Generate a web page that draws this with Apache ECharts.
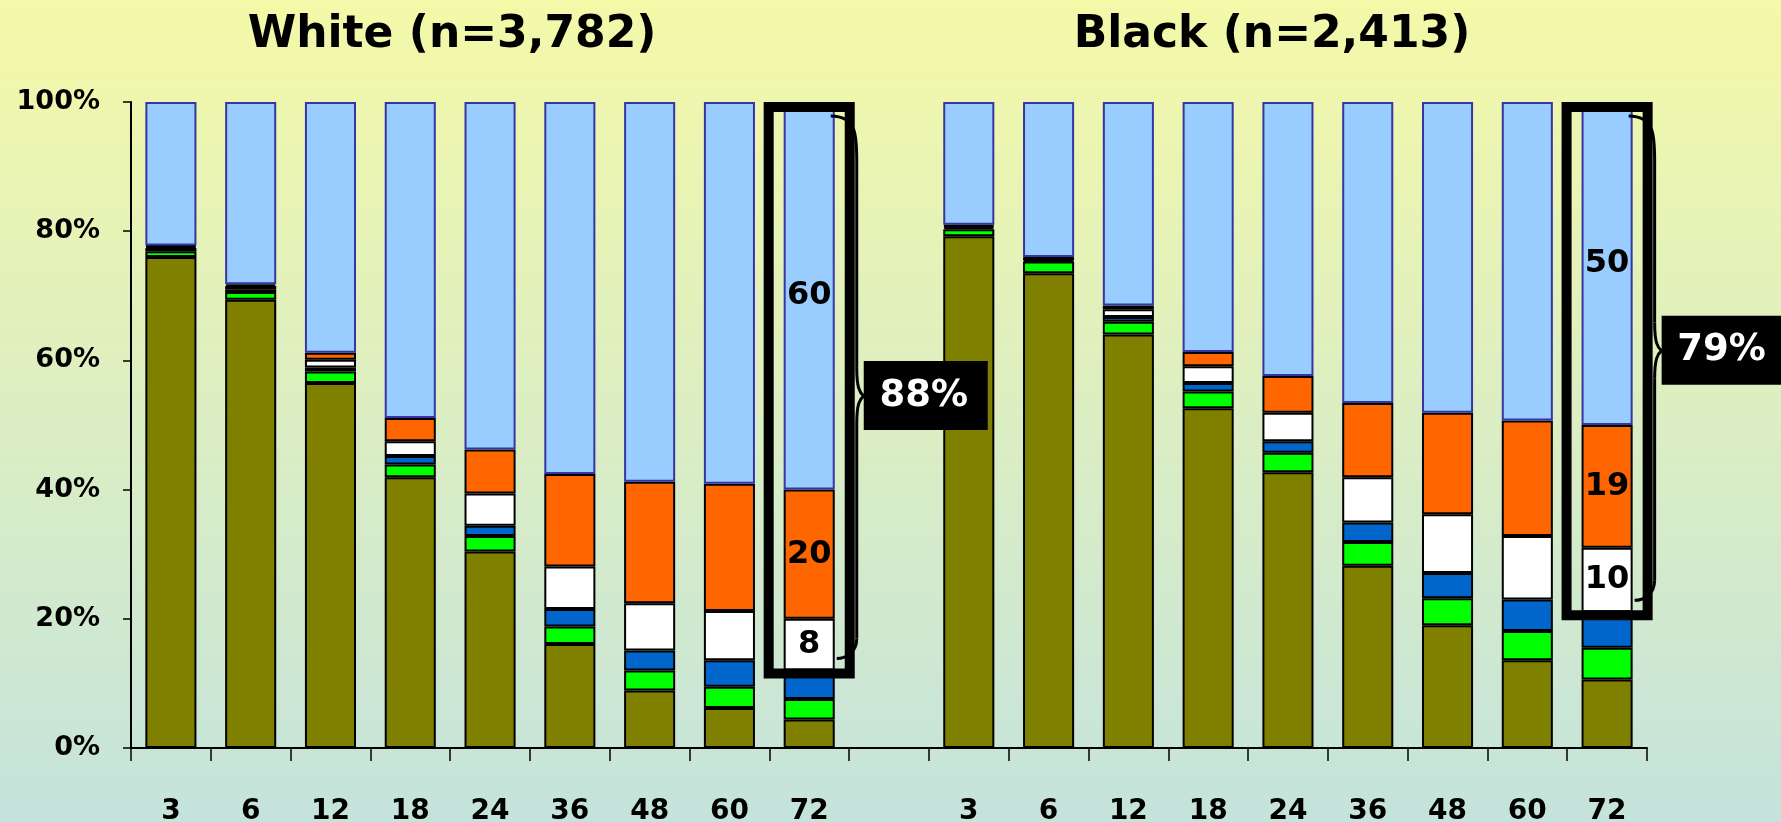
<!DOCTYPE html>
<html>
<head>
<meta charset="utf-8">
<script src="https://cdn.jsdelivr.net/npm/echarts@6/dist/echarts.min.js"></script>
<style>
html, body { margin: 0; padding: 0; }
#charts {
    width: 1781px;
    height: 822px;
    background: linear-gradient(to bottom, #f4f9a8 0%, #c4e3dc 100%);
}
</style>
</head>
<body>
<div id="charts"></div>
<script>
var months = ['3', '6', '12', '18', '24', '36', '48', '60', '72'];
var groupTitles = ['White (n=3,782)', 'Black (n=2,413)'];
var bracketTotals = ['88%', '79%'];

// White, bottom to top
var whiteOlive  = [76.0, 69.4, 56.5, 41.9, 30.4, 16.1, 8.9, 6.2, 4.4];
var whiteGreen  = [0.9, 1.2, 1.8, 2.0, 2.4, 2.7, 3.1, 3.3, 3.2];
var whiteBlue   = [0.5, 0.4, 0.6, 1.3, 1.6, 2.7, 3.1, 4.1, 4.4];
var whiteWhite  = [0.2, 0.5, 1.2, 2.3, 5.0, 6.6, 7.3, 7.6, 8];
var whiteOrange = [0.2, 0.3, 1.1, 3.6, 6.8, 14.3, 18.8, 19.7, 20];
var whiteLight  = [22.2, 28.2, 38.8, 48.9, 53.8, 57.6, 58.8, 59.1, 60];

// Black, bottom to top
var blackOlive  = [79.2, 73.5, 64.0, 52.6, 42.7, 28.2, 19.0, 13.6, 10.6];
var blackGreen  = [1.1, 1.8, 2.0, 2.6, 3.0, 3.7, 4.2, 4.5, 4.9];
var blackBlue   = [0.3, 0.2, 0.7, 1.3, 1.8, 3.0, 3.9, 4.9, 5.5];
var blackWhite  = [0.2, 0.4, 1.2, 2.6, 4.4, 7.0, 9.1, 9.8, 10];
var blackOrange = [0.2, 0.1, 0.6, 2.2, 5.7, 11.5, 15.7, 17.9, 19];
var blackLight  = [19.0, 24.0, 31.5, 38.7, 42.4, 46.6, 48.1, 49.3, 50];

var FONT = "'Comic Sans MS', 'DejaVu Sans', sans-serif";
var labelled = [8, 18]; // the two 72-month bars

function join(w, b, showLabel) {
    var arr = w.concat(['-'], b);
    return arr.map(function (v, i) {
        if (showLabel && labelled.indexOf(i) >= 0) {
            return { value: v, label: { show: true } };
        }
        return v;
    });
}

function barSeries(name, color, data, border) {
    return {
        name: name,
        type: 'bar',
        stack: 'all',
        barWidth: '64%',
        data: data,
        label: {
            show: false,
            position: 'inside',
            color: '#000',
            fontSize: 32,
            fontWeight: 'bold',
            fontFamily: FONT,
            formatter: function (p) { return Math.round(p.value); }
        },
        itemStyle: {
            color: color,
            borderColor: border || '#000',
            borderWidth: 2
        }
    };
}

var myChart = echarts.init(document.getElementById('charts'), null, { renderer: 'canvas' });
var categories = months.concat([''], months);

var option = {
    backgroundColor: 'transparent',
    animation: false,
    grid: {
        left: 131,
        right: 134,
        top: 102,
        bottom: 74,
        outerBoundsMode: 'none'
    },
    xAxis: [{
        type: 'category',
        data: categories,
        axisLine: { lineStyle: { color: '#000', width: 2 } },
        axisTick: {
            show: true,
            interval: 0,
            length: 13,
            alignWithLabel: false,
            lineStyle: { color: '#000', width: 1.5 }
        },
        axisLabel: {
            interval: 0,
            margin: 50,
            color: '#000',
            fontSize: 28,
            fontWeight: 'bold',
            fontFamily: FONT
        }
    }],
    yAxis: [{
        type: 'value',
        min: 0,
        max: 100,
        interval: 20,
        axisLine: { show: true, lineStyle: { color: '#000', width: 2 } },
        axisTick: { show: true, length: 8, lineStyle: { color: '#000', width: 1.5 } },
        splitLine: { show: false },
        axisLabel: {
            margin: 31,
            color: '#000',
            fontSize: 27,
            fontWeight: 'bold',
            fontFamily: FONT,
            formatter: '{value}%'
        }
    }],
    series: [
        barSeries('olive', '#808000', join(whiteOlive, blackOlive)),
        barSeries('green', '#00ff00', join(whiteGreen, blackGreen)),
        barSeries('blue', '#0066cc', join(whiteBlue, blackBlue)),
        barSeries('white', '#ffffff', join(whiteWhite, blackWhite, true)),
        barSeries('orange', '#ff6600', join(whiteOrange, blackOrange, true)),
        barSeries('light', '#99ccff', join(whiteLight, blackLight, true), '#3535a5')
    ]
};
myChart.setOption(option);

// titles, boxes round the 72-month bars, braces and total labels
function drawAnnotations() {
    var toPx = function (x, y) {
        return myChart.convertToPixel({ gridIndex: 0 }, [x, y]);
    };
    var catW = toPx(1, 0)[0] - toPx(0, 0)[0];
    var barW = catW * 0.64;
    var tipValues = [54.5, 61.5];
    var titleX = [452, 1272];
    var els = [];

    groupTitles.forEach(function (t, k) {
        els.push({
            type: 'text',
            x: titleX[k],
            y: 36,
            z: 100,
            style: {
                text: t,
                fill: '#000',
                font: 'bold 44px ' + FONT,
                textAlign: 'center',
                textVerticalAlign: 'middle'
            }
        });
    });

    labelled.forEach(function (idx, k) {
        var olive = k === 0 ? whiteOlive[8] : blackOlive[8];
        var green = k === 0 ? whiteGreen[8] : blackGreen[8];
        var blue = k === 0 ? whiteBlue[8] : blackBlue[8];
        var base = olive + green + blue;
        var top = toPx(idx, 100);
        var bot = toPx(idx, base);
        var cx = top[0];
        var yT = top[1];
        var yB = bot[1];
        var xr = cx + barW / 2;
        var tipY = toPx(idx, tipValues[k])[1];

        // thick box
        els.push({
            type: 'rect',
            z: 100,
            shape: { x: cx - barW / 2 - 15, y: yT + 5, width: barW + 30, height: yB + 3 - yT - 5 },
            style: { fill: 'none', stroke: '#000', lineWidth: 10 }
        });

        // curly brace
        var bs = { stroke: '#000', lineWidth: 3, fill: 'none' };
        var bx = xr + 22;
        var tipX = xr + 29;
        var bTop = yT + 14;
        var bBot = yB - 12;
        els.push({
            type: 'bezierCurve', z: 101,
            shape: { x1: xr - 4, y1: bTop, cpx1: bx, cpy1: bTop, cpx2: bx, cpy2: bTop + 20, x2: bx, y2: bTop + 45 },
            style: bs
        });
        els.push({
            type: 'line', z: 101,
            shape: { x1: bx, y1: bTop + 45, x2: bx, y2: tipY - 28 },
            style: bs
        });
        els.push({
            type: 'bezierCurve', z: 101,
            shape: { x1: bx, y1: tipY - 28, cpx1: bx, cpy1: tipY - 8, cpx2: tipX - 4, cpy2: tipY - 3, x2: tipX, y2: tipY },
            style: bs
        });
        els.push({
            type: 'bezierCurve', z: 101,
            shape: { x1: tipX, y1: tipY, cpx1: tipX - 4, cpy1: tipY + 3, cpx2: bx, cpy2: tipY + 8, x2: bx, y2: tipY + 28 },
            style: bs
        });
        els.push({
            type: 'line', z: 101,
            shape: { x1: bx, y1: tipY + 28, x2: bx, y2: bBot - 20 },
            style: bs
        });
        els.push({
            type: 'bezierCurve', z: 101,
            shape: { x1: bx, y1: bBot - 20, cpx1: bx, cpy1: bBot - 5, cpx2: xr + 10, cpy2: bBot, x2: xr + 2, y2: bBot },
            style: bs
        });

        // black label box
        els.push({
            type: 'rect', z: 102,
            shape: { x: tipX, y: tipY - 35, width: 124, height: 69 },
            style: { fill: '#000' }
        });
        els.push({
            type: 'text', z: 103,
            x: tipX + 60, y: tipY,
            style: {
                text: bracketTotals[k],
                fill: '#fff',
                font: 'bold 37px ' + FONT,
                textAlign: 'center',
                textVerticalAlign: 'middle'
            }
        });
    });

    myChart.setOption({ graphic: els });
}
drawAnnotations();
</script>
</body>
</html>
